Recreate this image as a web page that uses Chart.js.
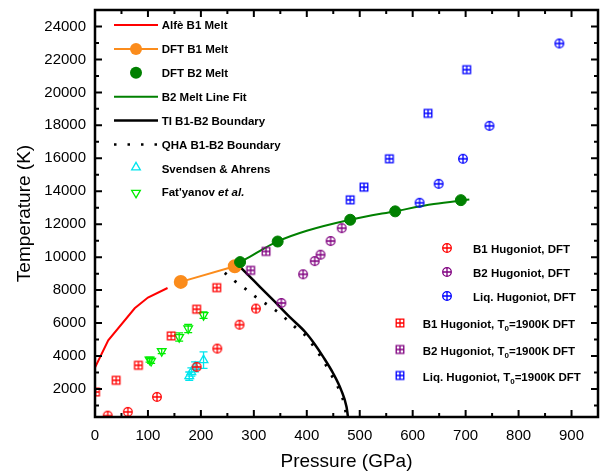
<!DOCTYPE html>
<html>
<head>
<meta charset="utf-8">
<script src="https://cdn.jsdelivr.net/npm/chart.js@4.4.1/dist/chart.umd.min.js"></script>
<style>
  html, body { margin: 0; padding: 0; background: #fff; }
  canvas { display: block; }
</style>
</head>
<body>
<canvas id="chart" width="606" height="473"></canvas>
<script>
// axis ticks
const xTickValues = [0, 100, 200, 300, 400, 500, 600, 700, 800, 900]
const yTickValues = [2000, 4000, 6000, 8000, 10000, 12000, 14000, 16000, 18000, 20000, 22000, 24000]

// melt curves
const alfeP = [0, 25, 75, 100, 137]
const alfeT = [3300, 4950, 6900, 7550, 8130]

const dftB1MeltP = [162, 264]
const dftB1MeltT = [8500, 9450]

const dftB2MeltP = [274, 345, 482, 567, 691]
const dftB2MeltT = [9700, 10950, 12270, 12780, 13460]

const b2FitP = [268, 293, 320, 346, 400, 482, 567, 640, 707]
const b2FitT = [9600, 10030, 10540, 10970, 11600, 12270, 12790, 13220, 13500]

// B1-B2 boundaries
const tiP = [268, 300, 340, 370, 397, 415, 431, 450, 465, 475, 479]
const tiT = [9600, 8570, 7280, 6300, 5460, 4720, 3950, 2940, 1930, 920, 0]

const qhaP = [245, 264, 286, 308, 330, 349, 365, 381, 399, 411, 428, 446, 462, 472, 476]
const qhaT = [9050, 8550, 8030, 7480, 7020, 6580, 6130, 5670, 5200, 4680, 3880, 2880, 1880, 900, 0]

// experiments
const svendsenP = [178, 182, 189, 205]
const svendsenT = [2780, 3030, 3340, 3750]
const svendsenErr = [250, 250, 300, 500]

const fatyanovP = [103, 106, 126, 159, 176, 205]
const fatyanovT = [3780, 3700, 4300, 5150, 5670, 6480]
const fatyanovErr = [150, 150, 150, 250, 250, 200]

// Hugoniots, DFT
const b1HugP = [24, 62, 117, 192, 231, 273, 304]
const b1HugT = [380, 610, 1520, 3340, 4450, 5900, 6880]

const b2HugP = [352, 393, 415, 426, 445, 466]
const b2HugT = [7220, 8960, 9760, 10150, 10980, 11760]

const liqHugP = [613, 649, 695, 745, 877]
const liqHugT = [13300, 14450, 15970, 17970, 22970]

// Hugoniots, T0 = 1900 K
const b1Hug1900P = [1, 40, 82, 144, 192, 230]
const b1Hug1900T = [1820, 2530, 3440, 5220, 6840, 8150]

const b2Hug1900P = [294, 323]
const b2Hug1900T = [9200, 10350]

const liqHug1900P = [482, 508, 556, 629, 702]
const liqHug1900T = [13480, 14250, 15970, 18730, 21380]

const RED = '#ff0000'
const ORANGE = '#fb8c1c'
const GREEN = '#008000'
const LIME = '#00ee00'
const CYAN = '#00e5ee'
const PURPLE = '#800080'
const BLUE = '#0000ff'

const FONT = '"Liberation Sans", Arial, sans-serif'

function pts(xs, ys) {
    return xs.map((x, i) => ({x: x, y: ys[i]}))
}

// little canvases used as point styles: circle with cross, square with cross
function marker(kind, color) {
    const c = document.createElement('canvas')
    c.width = 12
    c.height = 12
    const g = c.getContext('2d')
    g.strokeStyle = color
    g.lineWidth = 1.3
    g.beginPath()
    if (kind === 'circle') {
        g.arc(6, 6, 4.3, 0, Math.PI * 2)
        g.moveTo(6, 1.7); g.lineTo(6, 10.3)
        g.moveTo(1.7, 6); g.lineTo(10.3, 6)
    } else {
        g.rect(2.2, 2.2, 7.6, 7.6)
        g.moveTo(6, 2.2); g.lineTo(6, 9.8)
        g.moveTo(2.2, 6); g.lineTo(9.8, 6)
    }
    g.stroke()
    return c
}

const mk = {
    b1: marker('circle', RED), b2: marker('circle', PURPLE), liq: marker('circle', BLUE),
    b1s: marker('square', RED), b2s: marker('square', PURPLE), liqs: marker('square', BLUE)
}

function markerSet(xs, ys, img) {
    return {data: pts(xs, ys), pointStyle: img, pointRadius: 6, showLine: false, clip: 0}
}

const errorBarPlugin = {
    id: 'errorBars',
    beforeDatasetsDraw(chart) {
        const {ctx, chartArea: a, scales: {x, y}} = chart
        ctx.save()
        ctx.beginPath()
        ctx.rect(a.left, a.top, a.width, a.height)
        ctx.clip()
        chart.data.datasets.forEach(ds => {
            if (!ds.errY) return
            ctx.strokeStyle = ds.borderColor
            ctx.lineWidth = 1.3
            ds.data.forEach((p, i) => {
                const px = x.getPixelForValue(p.x)
                const top = y.getPixelForValue(p.y + ds.errY[i])
                const bot = y.getPixelForValue(p.y - ds.errY[i])
                ctx.beginPath()
                ctx.moveTo(px, top); ctx.lineTo(px, bot)
                ctx.moveTo(px - 4, top); ctx.lineTo(px + 4, top)
                ctx.moveTo(px - 4, bot); ctx.lineTo(px + 4, bot)
                ctx.stroke()
            })
        })
        ctx.restore()
    }
}

const framePlugin = {
    id: 'frame',
    afterDatasetsDraw(chart) {
        const {ctx, chartArea: a, scales: {x, y}} = chart
        ctx.save()
        ctx.strokeStyle = '#000'
        ctx.lineWidth = 2
        ctx.beginPath()
        for (let v = 0; v <= x.max; v += 50) {
            const px = x.getPixelForValue(v)
            const len = v % 100 === 0 ? 7 : 4
            ctx.moveTo(px, a.bottom); ctx.lineTo(px, a.bottom - len)
            ctx.moveTo(px, a.top); ctx.lineTo(px, a.top + len)
        }
        for (let v = 1000; v <= y.max; v += 1000) {
            const py = y.getPixelForValue(v)
            const len = v % 2000 === 0 ? 7 : 4
            ctx.moveTo(a.left, py); ctx.lineTo(a.left + len, py)
            ctx.moveTo(a.right, py); ctx.lineTo(a.right - len, py)
        }
        ctx.stroke()
        ctx.lineWidth = 2.5
        ctx.strokeRect(a.left, a.top, a.width, a.height)
        ctx.restore()
    }
}

function tri(ctx, cx, cy, r, down, color) {
    const s = down ? -1 : 1
    ctx.beginPath()
    ctx.moveTo(cx, cy - s * r)
    ctx.lineTo(cx + r * 0.866, cy + s * r * 0.5)
    ctx.lineTo(cx - r * 0.866, cy + s * r * 0.5)
    ctx.closePath()
    ctx.strokeStyle = color
    ctx.lineWidth = 1.3
    ctx.stroke()
}

const legendPlugin = {
    id: 'customLegend',
    afterDraw(chart) {
        const ctx = chart.ctx
        ctx.save()
        ctx.textBaseline = 'middle'
        ctx.fillStyle = '#000'
        const bold = 'bold 11.5px ' + FONT
        const x0 = 114, x1 = 158, xm = 136, tx = 161.7
        const rows = [25, 48.9, 72.8, 96.7, 120.6, 144.5, 168.4, 192.3]
        const line = (yy, color, w, dash) => {
            ctx.beginPath()
            ctx.setLineDash(dash || [])
            ctx.strokeStyle = color
            ctx.lineWidth = w
            ctx.moveTo(x0, yy); ctx.lineTo(x1, yy)
            ctx.stroke()
            ctx.setLineDash([])
        }
        const dot = (yy, color) => {
            ctx.beginPath()
            ctx.fillStyle = color
            ctx.arc(xm, yy, 6, 0, Math.PI * 2)
            ctx.fill()
            ctx.fillStyle = '#000'
        }
        line(rows[0], RED, 2)
        line(rows[1], ORANGE, 2); dot(rows[1], ORANGE)
        dot(rows[2], GREEN)
        line(rows[3], GREEN, 2)
        line(rows[4], '#000', 2.5)
        line(rows[5], '#000', 2.5, [2.5, 11])
        tri(ctx, xm, rows[6] - 1, 5, false, CYAN)
        tri(ctx, xm, rows[7] + 0.5, 5, true, LIME)

        ctx.font = bold
        const labels = ['Alfè B1 Melt', 'DFT B1 Melt', 'DFT B2 Melt', 'B2 Melt Line Fit',
            'TI B1-B2 Boundary', 'QHA B1-B2 Boundary', 'Svendsen & Ahrens']
        labels.forEach((t, i) => ctx.fillText(t, tx, rows[i] + 1))
        ctx.fillText("Fat'yanov ", tx, rows[7] + 1)
        const w = ctx.measureText("Fat'yanov ").width
        ctx.font = 'italic ' + bold
        ctx.fillText('et al.', tx + w, rows[7] + 1)

        // right hand legend
        ctx.font = bold
        const rRows = [248, 272, 296]
        ;[mk.b1, mk.b2, mk.liq].forEach((m, i) => ctx.drawImage(m, 447 - 6, rRows[i] - 6))
        ;['B1 Hugoniot, DFT', 'B2 Hugoniot, DFT', 'Liq. Hugoniot, DFT'].forEach((t, i) => ctx.fillText(t, 473, rRows[i] + 2))
        const sRows = [323, 349.5, 375.5]
        ;[mk.b1s, mk.b2s, mk.liqs].forEach((m, i) => ctx.drawImage(m, 400 - 6, sRows[i] - 6))
        ;['B1', 'B2', 'Liq.'].forEach((p, i) => {
            let xx = 422.7
            const yy = sRows[i] + 2
            ctx.font = bold
            const a = p + ' Hugoniot, T'
            ctx.fillText(a, xx, yy)
            xx += ctx.measureText(a).width
            ctx.font = 'bold 8px ' + FONT
            ctx.fillText('0', xx, yy + 4)
            xx += ctx.measureText('0').width
            ctx.font = bold
            ctx.fillText('=1900K DFT', xx, yy)
        })
        ctx.restore()
    }
}

const tickFont = {family: FONT, size: 15}
const titleFont = {family: FONT, size: 19}

new Chart(document.getElementById('chart'), {
    type: 'scatter',
    data: {
        datasets: [
            {data: pts(dftB2MeltP, dftB2MeltT), backgroundColor: GREEN, borderColor: GREEN, pointRadius: 5.5, showLine: false, clip: 0},
            {data: pts(dftB1MeltP, dftB1MeltT), backgroundColor: ORANGE, borderColor: ORANGE, borderWidth: 2, pointRadius: 6, showLine: true, clip: 0},
            markerSet(liqHugP, liqHugT, mk.liq),
            markerSet(b2HugP, b2HugT, mk.b2),
            markerSet(b1HugP, b1HugT, mk.b1),
            markerSet(liqHug1900P, liqHug1900T, mk.liqs),
            markerSet(b2Hug1900P, b2Hug1900T, mk.b2s),
            markerSet(b1Hug1900P, b1Hug1900T, mk.b1s),
            {data: pts(svendsenP, svendsenT), errY: svendsenErr, pointStyle: 'triangle', pointRadius: 5, borderColor: CYAN, backgroundColor: 'rgba(0,0,0,0)', pointBorderWidth: 1.3, showLine: false, clip: 0},
            {data: pts(fatyanovP, fatyanovT), errY: fatyanovErr, pointStyle: 'triangle', pointRotation: 180, pointRadius: 5, borderColor: LIME, backgroundColor: 'rgba(0,0,0,0)', pointBorderWidth: 1.3, showLine: false, clip: 0},
            {data: pts(b2FitP, b2FitT), borderColor: GREEN, borderWidth: 2, pointRadius: 0, showLine: true, cubicInterpolationMode: 'monotone', clip: 0},
            {data: pts(alfeP, alfeT), borderColor: RED, borderWidth: 2, pointRadius: 0, showLine: true, clip: 0},
            {data: pts(tiP, tiT), borderColor: '#000', borderWidth: 2.5, pointRadius: 0, showLine: true, cubicInterpolationMode: 'monotone', clip: 0},
            {data: pts(qhaP, qhaT), borderColor: '#000', borderWidth: 2.8, borderDash: [2.5, 10], pointRadius: 0, showLine: true, cubicInterpolationMode: 'monotone', clip: 0}
        ]
    },
    options: {
        responsive: false,
        animation: false,
        layout: {padding: {left: 0, right: 7, top: 9, bottom: 0}},
        plugins: {legend: {display: false}, tooltip: {enabled: false}},
        scales: {
            x: {
                type: 'linear', min: 0, max: 950,
                grid: {display: false}, border: {display: false},
                afterBuildTicks: s => { s.ticks = xTickValues.map(v => ({value: v})) },
                afterFit: s => { s.height = 56 },
                ticks: {font: tickFont, color: '#000', padding: 2, autoSkip: false, maxRotation: 0, callback: v => String(v)},
                title: {display: true, text: 'Pressure (GPa)', font: titleFont, color: '#000', padding: 0}
            },
            y: {
                type: 'linear', min: 300, max: 25000,
                grid: {display: false}, border: {display: false},
                afterBuildTicks: s => { s.ticks = yTickValues.map(v => ({value: v})) },
                afterFit: s => { s.width = 95 },
                ticks: {font: tickFont, color: '#000', padding: 1, autoSkip: false, callback: v => String(v)},
                title: {display: true, text: 'Temperature (K)', font: titleFont, color: '#000', padding: {top: 13, bottom: 0}}
            }
        }
    },
    plugins: [errorBarPlugin, framePlugin, legendPlugin]
})
</script>
</body>
</html>
